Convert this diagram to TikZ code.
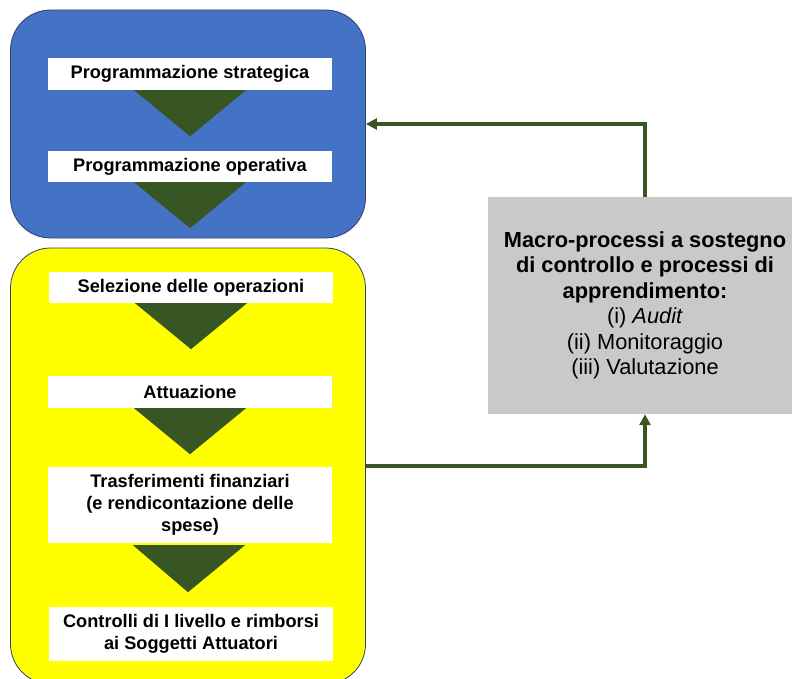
\documentclass[tikz,border=0pt]{standalone}
\usepackage{fontspec}
\setmainfont{Liberation Sans}
\usetikzlibrary{arrows.meta,calc}
\definecolor{bluefill}{HTML}{4472C4}
\definecolor{boxborder}{HTML}{2F3F6F}
\definecolor{yellowfill}{HTML}{FFFF00}
\definecolor{darkgreen}{HTML}{375623}
\definecolor{grayfill}{HTML}{C9C9C9}
\tikzset{
  groupbox/.style={draw=boxborder, line width=0.8pt, rounded corners=40pt, inner sep=0pt},
  stepbox/.style={fill=white, minimum width=284pt, inner sep=0pt, align=center,
    font=\fontsize{18.2}{22}\selectfont\bfseries},
  tri/.style={fill=darkgreen},
  link/.style={draw=darkgreen, line width=3.5pt, -{Triangle[length=11pt,width=11pt]}},
}
\begin{document}
\begin{tikzpicture}[x=1pt,y=-1pt]
\clip (0,0) rectangle (792,679);
\useasboundingbox (0,0) rectangle (792,679);
\node[groupbox, fill=bluefill, minimum width=355pt, minimum height=228pt] (blue) at (188,124) {};
\node[groupbox, fill=yellowfill, minimum width=355pt, minimum height=436pt] (yellow) at (188,466) {};
\node[stepbox, minimum height=32pt] (b1) at (190,74) {\raisebox{-1.5pt}{Programmazione strategica}};
\node[stepbox, minimum height=31pt] (b2) at (190,166.5) {\raisebox{-1.5pt}{Programmazione operativa}};
\node[stepbox, minimum height=31pt] (b3) at (191,287.5) {\raisebox{-1.5pt}{Selezione delle operazioni}};
\node[stepbox, minimum height=32pt] (b4) at (190,392) {\raisebox{-1.5pt}{Attuazione}};
\node[stepbox, minimum height=76pt] (b5) at (190,505) {Trasferimenti finanziari\\(e rendicontazione delle\\spese)};
\node[stepbox, minimum height=54pt] (b6) at (191,634) {Controlli di I livello e rimborsi\\ai Soggetti Attuatori};
\foreach \b in {b1,b2,b3,b4}{
  \fill[tri] ($(\b.south)+(-56,0)$) -- ($(\b.south)+(56,0)$) -- ($(\b.south)+(0,46)$) -- cycle;
}
\fill[tri] ($(b5.south)+(-57,2)$) -- ($(b5.south)+(55,2)$) -- ($(b5.south)+(-2,49)$) -- cycle;
\node[fill=grayfill, minimum width=314pt, minimum height=217pt, inner sep=0pt, align=center,
  font=\fontsize{21.8}{25.5}\selectfont] (gray) at (645,305.5)
  {\textbf{Macro-processi a sostegno}\\\textbf{di controllo e processi di}\\\textbf{apprendimento:}\\(i) \textit{Audit}\\(ii) Monitoraggio\\(iii) Valutazione};
\draw[link] (gray.north) |- (blue.east);
\draw[link] (yellow.east) -| (gray.south);
\end{tikzpicture}
\end{document}
